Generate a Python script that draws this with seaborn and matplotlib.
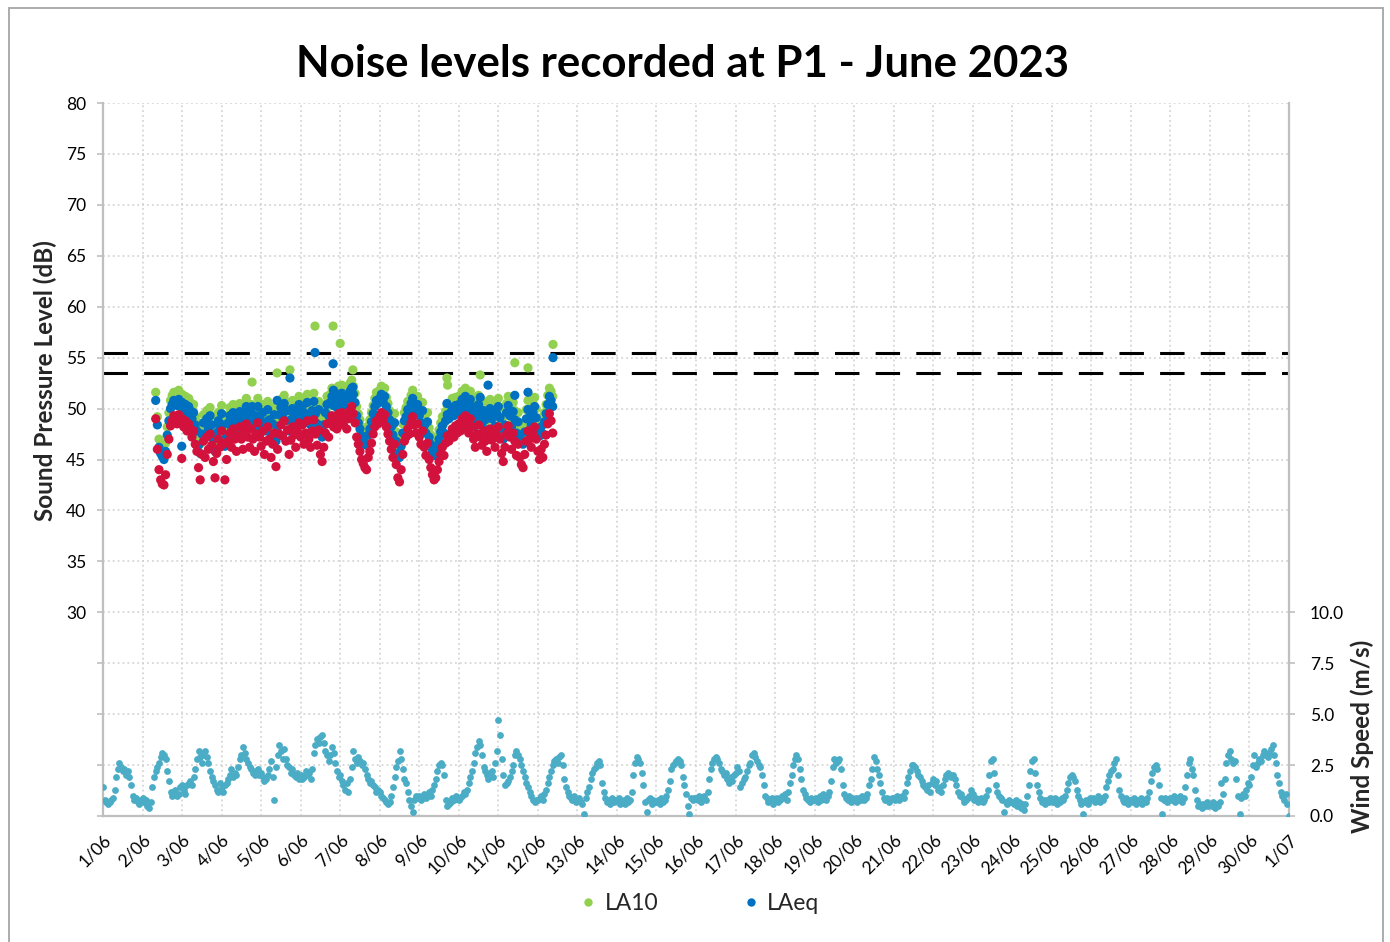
import numpy as np
import pandas as pd
import matplotlib
matplotlib.use("Agg")
import matplotlib.pyplot as plt
import seaborn as sns
from matplotlib.lines import Line2D
from matplotlib.patches import Rectangle

# ---------------- DATA ----------------
# noise: hourly values from 2 June 08:00 to 12 June 09:00
noise_start_hour = 32  # hours after 1 June 00:00

la90 = [
    # 2 June 08-23
    49.0, 46.0, 44.0, 43.0, 42.6, 42.5, 43.5, 45.5, 47.0, 48.3, 48.8, 49.3, 49.0, 48.5, 49.4, 48.6,
    # 3 June
    49.0, 48.2, 48.8, 47.8, 48.5, 48.0, 47.2, 47.8, 46.5, 45.8, 44.2, 43.0, 45.5, 46.8, 45.2, 47.2, 46.0, 47.5, 46.4, 44.8, 43.2, 45.6, 47.0, 46.2,
    # 4 June
    47.8, 46.5, 43.0, 45.0, 46.8, 47.6, 46.2, 48.0, 47.0, 45.8, 47.3, 48.2, 47.0, 46.0, 47.8, 48.5, 47.2, 46.2, 48.0, 47.0, 45.8, 47.5, 48.6, 47.2,
    # 5 June
    46.3, 47.8, 45.5, 46.8, 48.2, 47.0, 45.2, 46.5, 47.6, 44.3, 46.0, 47.5, 48.4, 47.3, 48.8, 46.8, 47.9, 45.5, 46.9, 48.2, 47.4, 46.2, 47.8, 48.6,
    # 6 June
    47.2, 48.4, 46.5, 47.6, 48.8, 47.0, 46.2, 47.8, 48.9, 47.5, 46.4, 47.9, 45.5, 44.8, 46.2, 47.6, 48.5, 47.2, 48.6, 49.3, 48.2, 49.0, 48.0, 49.5,
    # 7 June
    48.7, 49.6, 48.4, 49.2, 48.0, 49.0, 49.8, 50.2, 49.5, 48.6, 47.2, 46.5, 45.8, 45.0, 44.6, 44.2, 44.0, 45.2, 45.8, 46.6, 47.5, 48.2, 48.8, 48.5,
    # 8 June
    49.2, 49.6, 48.8, 49.4, 48.2, 47.5, 46.8, 46.0, 45.2, 46.5, 44.5, 43.2, 42.8, 44.0, 45.5, 46.8, 47.2, 48.0, 47.5, 48.6, 49.2, 48.4, 47.6, 48.5,
    # 9 June
    47.2, 46.5, 47.8, 46.2, 45.4, 46.6, 45.0, 44.2, 43.5, 43.0, 43.2, 44.0, 44.8, 45.5, 46.2, 45.4, 46.6, 47.3, 46.8, 47.5, 48.0, 47.2, 48.3, 47.6,
    # 10 June
    48.5, 47.8, 49.0, 48.2, 49.3, 48.5, 47.6, 49.0, 48.2, 47.0, 46.2, 47.5, 48.4, 47.2, 46.4, 47.8, 46.8, 45.8, 47.2, 48.0, 46.9, 47.6, 46.2, 47.4,
    # 11 June
    48.2, 47.0, 45.6, 44.8, 46.2, 47.5, 48.3, 47.2, 46.0, 47.6, 46.8, 45.4, 46.5, 45.2, 44.5, 44.2, 45.5, 46.8, 47.8, 47.0, 46.2, 47.5, 48.2, 47.0,
    # 12 June 00-09
    45.8, 45.0, 46.0, 45.2, 46.5, 47.4, 48.5, 49.5, 48.8, 47.6,
]

laeq = [
    50.8, 48.4, 46.2, 45.6, 45.3, 45.0, 45.8, 47.4, 48.8, 50.0, 50.4, 50.8, 50.6, 50.3, 50.9, 50.2,
    50.6, 50.0, 50.4, 49.5, 50.2, 49.8, 49.0, 49.6, 48.4, 47.8, 46.4, 45.6, 47.5, 48.6, 47.4, 49.0, 48.0, 49.3, 48.4, 47.0, 45.8, 47.6, 48.8, 48.2,
    49.5, 48.4, 46.3, 47.2, 48.6, 49.3, 48.2, 49.6, 48.8, 47.9, 49.0, 49.7, 48.8, 48.0, 49.5, 50.2, 49.0, 48.3, 49.6, 48.9, 47.9, 49.3, 50.2, 49.1,
    48.4, 49.6, 47.8, 48.7, 49.9, 48.9, 47.5, 48.5, 49.4, 46.8, 48.2, 49.4, 50.1, 49.2, 50.5, 48.8, 49.8, 47.8, 48.9, 50.0, 49.3, 48.4, 49.7, 50.4,
    49.2, 50.2, 48.6, 49.5, 50.6, 49.0, 48.4, 49.8, 50.7, 49.5, 48.5, 49.9, 47.8, 47.2, 48.4, 49.6, 50.4, 49.3, 50.6, 51.2, 50.3, 51.0, 50.1, 51.4,
    50.7, 51.5, 50.4, 51.1, 50.0, 51.0, 51.7, 52.0, 51.4, 50.6, 49.3, 48.6, 48.0, 47.3, 46.9, 46.5, 46.4, 47.4, 48.0, 48.7, 49.5, 50.2, 50.8, 50.5,
    51.0, 51.4, 50.7, 51.2, 50.2, 49.6, 48.9, 48.2, 47.4, 48.6, 46.8, 45.6, 45.2, 46.3, 47.6, 48.8, 49.2, 49.9, 49.5, 50.5, 51.0, 50.3, 49.6, 50.4,
    49.3, 48.6, 49.8, 48.3, 47.6, 48.7, 47.2, 46.5, 45.9, 45.4, 45.6, 46.3, 47.0, 47.7, 48.3, 47.6, 48.8, 49.4, 49.0, 49.6, 50.1, 49.3, 50.3, 49.7,
    50.4, 49.8, 50.9, 50.2, 51.2, 50.5, 49.6, 50.9, 50.2, 49.1, 48.3, 49.6, 50.4, 49.2, 48.5, 49.8, 48.9, 47.9, 49.3, 50.0, 49.0, 49.7, 48.3, 49.5,
    50.2, 49.1, 47.8, 47.0, 48.4, 49.6, 50.3, 49.3, 48.2, 49.7, 48.9, 47.6, 48.7, 47.4, 46.8, 46.5, 47.7, 49.0, 49.9, 49.1, 48.4, 49.6, 50.2, 49.1,
    48.0, 47.3, 48.2, 47.5, 48.7, 49.5, 50.4, 51.2, 50.8, 50.2,
]

la10 = [
    51.6, 49.2, 47.0, 46.4, 46.1, 45.9, 46.6, 48.2, 49.6, 50.8, 51.3, 51.6, 51.5, 51.1, 51.8, 51.0,
    51.4, 50.9, 51.2, 50.3, 51.0, 50.6, 49.9, 50.4, 49.2, 48.7, 47.3, 46.5, 48.3, 49.4, 48.3, 49.8, 48.9, 50.1, 49.3, 47.9, 46.7, 48.4, 49.6, 49.1,
    50.3, 49.3, 47.2, 48.0, 49.4, 50.1, 49.1, 50.4, 49.7, 48.8, 49.8, 50.5, 49.7, 48.9, 50.3, 51.0, 49.9, 49.2, 50.4, 49.8, 48.8, 50.1, 51.0, 50.0,
    49.3, 50.4, 48.7, 49.5, 50.7, 49.8, 48.4, 49.3, 50.2, 47.7, 49.0, 50.2, 50.9, 50.0, 51.3, 49.7, 50.6, 48.7, 49.7, 50.8, 50.2, 49.3, 50.5, 51.2,
    50.0, 51.0, 49.5, 50.3, 51.4, 49.9, 49.3, 50.6, 51.5, 50.3, 49.4, 50.7, 48.7, 48.1, 49.2, 50.4, 51.2, 50.2, 51.4, 52.0, 51.2, 51.8, 51.0, 52.2,
    51.6, 52.3, 51.3, 51.9, 50.9, 51.8, 52.5, 52.8, 52.2, 51.5, 50.2, 49.5, 48.9, 48.2, 47.8, 47.4, 47.3, 48.3, 48.9, 49.6, 50.3, 51.0, 51.6, 51.4,
    51.8, 52.2, 51.5, 52.0, 51.1, 50.5, 49.8, 49.1, 48.3, 49.5, 47.7, 46.5, 46.1, 47.2, 48.5, 49.6, 50.1, 50.7, 50.4, 51.3, 51.8, 51.1, 50.5, 51.2,
    50.2, 49.5, 50.6, 49.2, 48.5, 49.6, 48.1, 47.4, 46.8, 46.3, 46.5, 47.2, 47.9, 48.6, 49.2, 48.5, 49.7, 50.3, 49.9, 50.5, 51.0, 50.2, 51.1, 50.6,
    51.2, 50.7, 51.7, 51.1, 52.0, 51.4, 50.5, 51.7, 51.1, 50.0, 49.2, 50.5, 51.3, 50.1, 49.4, 50.7, 49.8, 48.8, 50.2, 50.9, 49.9, 50.6, 49.2, 50.4,
    51.0, 50.0, 48.7, 47.9, 49.3, 50.5, 51.2, 50.2, 49.1, 50.6, 49.8, 48.5, 49.6, 48.3, 47.7, 47.4, 48.6, 49.9, 50.8, 50.0, 49.3, 50.5, 51.1, 50.0,
    48.9, 48.2, 49.1, 48.4, 49.6, 50.4, 51.3, 52.0, 51.7, 51.2,
]

# isolated readings (hours after 1 June 00:00)
la10_extra_hours = [90.5, 105.7, 113.5, 128.7, 139.7, 144.0, 151.7, 208.8, 209.2, 229.0, 250.0, 258.0, 273.2]
la10_extra_values = [52.6, 53.5, 53.8, 58.1, 58.1, 56.4, 53.8, 53.0, 52.3, 53.3, 54.5, 54.0, 56.3]
laeq_extra_hours = [47.8, 90.5, 105.7, 113.5, 128.7, 139.7, 139.9, 151.7, 208.8, 229.0, 233.75, 250.0, 258.0, 273.2]
laeq_extra_values = [46.3, 50.2, 50.8, 53.0, 55.5, 54.4, 51.8, 52.1, 50.5, 51.1, 52.3, 51.3, 51.6, 55.0]
la90_extra_hours = [47.8]
la90_extra_values = [45.1]

# wind speed: hourly, 1 June 00:00 to 1 July 00:00
wind = [
    1.4, 0.8, 0.7, 0.6, 0.7, 0.8, 0.9, 1.3, 1.9, 2.3, 2.6, 2.4, 2.2, 2.3, 2.0, 2.2, 1.9, 1.5, 1.0, 0.8, 0.9, 0.7, 0.6, 0.8,
    0.9, 0.7, 0.8, 0.5, 0.4, 0.7, 1.4, 1.9, 2.2, 2.4, 2.6, 2.9, 3.1, 3.0, 2.8, 2.2, 1.7, 1.2, 1.0, 1.2, 1.3, 1.0, 1.1, 1.4,
    1.5, 1.3, 1.1, 1.5, 1.6, 1.7, 1.5, 1.9, 2.3, 2.8, 3.2, 2.9, 2.6, 3.0, 3.2, 2.9, 2.6, 2.2, 1.9, 1.7, 1.5, 1.3, 1.2, 1.6,
    1.4, 1.2, 1.5, 1.6, 1.8, 2.0, 2.3, 1.9, 2.1, 2.0, 2.4, 2.8, 3.0, 3.4, 3.1, 2.8, 2.6, 2.4, 2.3, 2.1, 2.0, 2.2, 2.3, 2.0,
    2.1, 1.9, 1.7, 1.8, 2.0, 2.3, 2.7, 1.9, 0.8, 2.4, 3.0, 3.5, 3.2, 2.8, 3.3, 2.8, 2.5, 2.4, 2.1, 2.3, 2.0, 1.9, 2.1, 1.8,
    2.0, 1.8, 1.9, 2.2, 2.0, 2.1, 1.8, 2.3, 3.1, 3.5, 3.8, 3.6, 3.9, 4.0, 3.6, 3.2, 3.0, 2.7, 3.0, 3.4, 3.1, 2.6, 2.2, 1.9,
    2.0, 1.7, 1.5, 1.3, 1.6, 1.2, 1.8, 2.4, 3.2, 2.8, 2.6, 2.9, 2.7, 2.5, 2.6, 2.3, 2.0, 1.8, 1.6, 1.7, 1.5, 1.4, 1.2, 1.3,
    1.2, 1.0, 0.9, 0.8, 0.7, 0.6, 0.7, 1.0, 1.4, 1.9, 2.4, 2.7, 3.2, 2.8, 2.3, 1.8, 1.6, 1.2, 0.8, 0.5, 0.2, 0.8, 1.0, 0.9,
    1.0, 0.8, 0.9, 1.1, 0.9, 1.0, 1.2, 1.0, 1.3, 1.5, 1.8, 2.2, 2.5, 2.6, 2.5, 2.0, 0.8, 0.5, 0.6, 0.7, 0.9, 0.8, 1.0, 0.9,
    0.8, 0.9, 1.0, 1.2, 1.1, 1.3, 1.6, 1.9, 2.2, 2.6, 3.1, 3.4, 3.7, 3.5, 3.0, 2.4, 2.2, 2.0, 1.8, 2.1, 2.2, 1.9, 2.6, 3.2,
    4.7, 4.0, 2.8, 2.0, 1.5, 1.6, 1.7, 1.9, 2.2, 2.5, 3.0, 3.2, 3.0, 2.8, 2.5, 2.2, 1.9, 1.6, 1.4, 1.2, 1.0, 0.8, 0.7, 0.8,
    0.8, 0.9, 1.0, 0.8, 1.1, 1.3, 1.6, 1.9, 2.2, 2.5, 2.7, 2.8, 2.6, 2.9, 3.0, 2.5, 1.8, 1.4, 1.2, 1.0, 0.9, 0.8, 1.0, 0.7,
    0.8, 0.9, 0.7, 0.6, 0.1, 0.9, 1.2, 1.4, 1.8, 2.1, 2.3, 2.4, 2.6, 2.7, 2.5, 1.6, 1.2, 0.9, 0.7, 0.8, 0.6, 0.9, 0.7, 0.8,
    0.8, 0.9, 0.6, 0.7, 0.8, 0.6, 0.9, 0.7, 0.8, 1.2, 2.0, 2.6, 2.9, 2.8, 2.6, 2.1, 1.5, 0.7, 0.2, 0.8, 0.9, 0.6, 0.8, 0.7,
    0.7, 0.8, 0.6, 0.9, 0.7, 0.8, 1.0, 1.3, 1.7, 2.3, 2.5, 2.6, 2.7, 2.8, 2.7, 2.5, 1.9, 1.5, 1.1, 0.5, 0.1, 0.9, 0.8, 0.9,
    0.9, 0.8, 1.0, 0.7, 0.9, 1.0, 0.8, 1.2, 1.8, 2.3, 2.6, 2.8, 2.9, 2.8, 2.6, 2.3, 2.2, 2.0, 2.1, 1.8, 1.6, 1.9, 1.7, 2.0,
    2.1, 2.4, 2.2, 1.4, 1.6, 1.8, 1.9, 2.2, 2.5, 2.6, 3.0, 3.1, 2.9, 2.7, 2.5, 2.4, 2.0, 1.5, 1.0, 0.9, 0.7, 0.8, 0.9, 0.6,
    0.8, 0.9, 0.7, 0.8, 1.0, 0.9, 1.1, 0.8, 1.2, 1.6, 2.0, 2.5, 2.8, 3.0, 2.8, 2.3, 1.8, 1.3, 1.1, 0.9, 0.8, 0.7, 0.9, 0.8,
    0.8, 0.9, 0.7, 1.0, 0.8, 1.1, 0.9, 0.8, 1.0, 1.2, 1.7, 2.4, 2.8, 2.6, 2.7, 2.8, 2.3, 1.5, 1.1, 0.9, 0.8, 1.0, 0.7, 0.9,
    0.8, 0.9, 0.7, 0.9, 0.8, 1.0, 0.8, 0.9, 1.1, 1.5, 1.8, 2.3, 2.9, 2.7, 2.3, 2.0, 1.6, 1.2, 0.9, 0.8, 0.9, 0.7, 0.8, 0.9,
    0.9, 0.8, 1.0, 0.8, 0.9, 1.0, 0.9, 1.2, 1.6, 1.9, 2.2, 2.5, 2.5, 2.4, 2.2, 2.0, 1.9, 1.7, 1.5, 1.4, 1.3, 1.5, 1.2, 1.6,
    1.8, 1.5, 1.7, 1.3, 1.4, 1.2, 1.5, 1.8, 2.0, 2.1, 2.0, 1.9, 2.0, 1.8, 1.5, 1.2, 1.0, 1.1, 0.9, 0.7, 0.8, 0.9, 1.0, 1.3,
    1.1, 0.8, 0.9, 0.7, 0.8, 0.9, 0.7, 0.8, 1.0, 1.3, 2.0, 2.7, 2.8, 2.1, 1.5, 1.2, 1.0, 0.9, 0.8, 0.2, 0.7, 0.6, 0.8, 0.7,
    0.7, 0.6, 0.8, 0.5, 0.7, 0.4, 0.6, 0.3, 0.6, 1.0, 1.5, 2.2, 2.7, 2.8, 2.1, 1.5, 1.2, 0.9, 0.7, 0.8, 0.6, 0.8, 0.7, 0.9,
    0.8, 0.7, 0.9, 0.6, 0.8, 0.7, 0.9, 0.8, 1.0, 1.3, 1.6, 1.9, 2.0, 1.9, 1.7, 1.3, 1.0, 0.8, 0.6, 0.1, 0.7, 0.8, 0.6, 0.9,
    0.8, 0.9, 0.7, 0.8, 1.0, 0.7, 0.9, 0.8, 1.0, 1.4, 1.7, 2.0, 2.2, 2.3, 2.6, 2.8, 2.0, 1.3, 1.0, 0.8, 0.7, 0.9, 0.6, 0.8,
    0.8, 0.7, 0.9, 0.6, 0.8, 0.7, 0.9, 0.6, 0.8, 0.7, 0.9, 1.2, 1.7, 2.1, 2.4, 2.5, 2.3, 1.5, 0.9, 0.1, 0.8, 0.9, 0.7, 0.8,
    0.9, 0.8, 1.0, 0.7, 0.9, 0.8, 1.0, 0.7, 0.9, 1.4, 2.0, 2.6, 2.8, 2.3, 2.0, 1.3, 0.8, 0.5, 0.6, 0.4, 0.6, 0.5, 0.7, 0.5,
    0.6, 0.5, 0.7, 0.4, 0.6, 0.5, 0.7, 1.6, 1.1, 1.8, 2.6, 3.0, 3.2, 2.8, 2.6, 2.7, 1.8, 1.0, 0.1, 0.9, 1.1, 1.0, 1.3, 1.6,
    1.5, 1.9, 2.5, 3.0, 2.4, 2.6, 2.8, 2.7, 3.0, 3.2, 3.0, 2.9, 3.1, 3.3, 3.5, 3.0, 2.6, 2.0, 1.6, 1.2, 1.0, 0.8, 1.1, 0.6,
    0.0,
]

day_labels = [f"{d}/06" for d in range(1, 31)] + ["1/07"]
db_ticks = [10, 15, 20, 25, 30, 35, 40, 45, 50, 55, 60, 65, 70, 75, 80]
wind_ticks = [0.0, 2.5, 5.0, 7.5, 10.0]
criteria = [55.5, 53.5]

colors = {"LA10": "#92D050", "LAeq": "#0070C0", "LA90": "#D2123C"}
wind_color = "#4BACC6"

# ---------------- BUILD FRAMES ----------------
n = len(la90)
noise_days = (noise_start_hour + np.arange(n)) / 24.0
frames = []
for name, vals, eh, ev in [("LA10", la10, la10_extra_hours, la10_extra_values),
                           ("LAeq", laeq, laeq_extra_hours, laeq_extra_values),
                           ("LA90", la90, la90_extra_hours, la90_extra_values)]:
    frames.append(pd.DataFrame({"day": noise_days, "level": vals, "metric": name}))
    frames.append(pd.DataFrame({"day": np.array(eh) / 24.0, "level": ev, "metric": name}))
noise_df = pd.concat(frames, ignore_index=True)
wind_df = pd.DataFrame({"day": np.arange(len(wind)) / 24.0, "speed": wind})

# ---------------- PLOT ----------------
sns.set_theme(style="white")
plt.rcParams['font.family'] = ['Lato', 'DejaVu Sans']

W, H = 1390, 942
fig = plt.figure(figsize=(W / 100, H / 100), dpi=100)
ax = fig.add_axes([103 / W, 1 - 816 / H, (1289 - 103) / W, (816 - 103) / H])

grid_c = "#d0d0d0"
spine_c = "#bfbfbf"

ax.set_xlim(0, 30)
ax.set_ylim(10, 80)
ax.set_xticks(range(0, 31))
ax.set_xticklabels(day_labels, rotation=45, ha="right", rotation_mode="anchor", fontsize=12.5)
ax.set_yticks(db_ticks)
ax.set_yticklabels([str(t) if t >= 30 else "" for t in db_ticks], fontsize=12.5)
ax.grid(True, color=grid_c, linestyle=(0, (1.2, 2.0)), linewidth=1.1)
ax.set_axisbelow(True)
for s in ["top", "right"]:
    ax.spines[s].set_visible(False)
for s in ["left", "bottom"]:
    ax.spines[s].set_color(spine_c)
    ax.spines[s].set_linewidth(1.6)
ax.tick_params(axis="both", direction="out", length=4, width=1.2, color=spine_c, pad=7, labelcolor="black")
ax.tick_params(axis="y", pad=8)

for i, c in enumerate(criteria):
    ax.axhline(c, color="black", linewidth=2.2, dashes=(8.0, 5.3), dash_capstyle="butt", zorder=2)

sns.scatterplot(data=noise_df, x="day", y="level", hue="metric", palette=colors,
                s=44, linewidth=0, legend=False, ax=ax, zorder=3)
ax.set_xlabel("")
ax.set_ylabel("Sound Pressure Level (dB)", fontsize=17.5, fontweight="bold")
ax.yaxis.set_label_coords(-0.039, 0.611)

ax2 = ax.twinx()
sns.scatterplot(data=wind_df, x="day", y="speed", color=wind_color, s=24, linewidth=0, ax=ax2, zorder=3)
ax2.set_ylim(0, 35)
ax2.set_xlim(0, 30)
ax2.set_yticks(wind_ticks)
ax2.set_yticklabels([f"{t:.1f}" for t in wind_ticks], fontsize=12.5)
ax2.set_ylabel("Wind Speed (m/s)", fontsize=17.5, fontweight="bold")
ax2.yaxis.set_label_coords(1.0514, 0.112)
ax2.set_xlabel("")
for s in ["top", "left", "bottom"]:
    ax2.spines[s].set_visible(False)
ax2.spines["right"].set_color(spine_c)
ax2.spines["right"].set_linewidth(1.6)
ax2.tick_params(axis="y", direction="out", length=4, width=1.2, color=spine_c, pad=11, labelcolor="black")
ax2.grid(False)

fig.text(683 / W, 1 - 64 / H, "Noise levels recorded at P1 - June 2023",
         ha="center", va="center", fontsize=31.5, fontweight="bold", color="black")

handles = [Line2D([], [], marker="o", ls="", color=colors["LA10"], markersize=5, label="LA10"),
           Line2D([], [], marker="o", ls="", color=colors["LAeq"], markersize=5, label="LAeq")]
fig.legend(handles=handles, loc="center", bbox_to_anchor=(698 / W, 1 - 904 / H), ncol=2,
           frameon=False, fontsize=16.5, handletextpad=0.2, columnspacing=3.55, handlelength=1.0)

fig.patches.append(Rectangle((9 / W, -0.01), (1383 - 9) / W, 1 - 8 / H + 0.01,
                             transform=fig.transFigure, fill=False, ec="#a6a6a6", lw=1.3))

fig.savefig("out.png", dpi=100)
